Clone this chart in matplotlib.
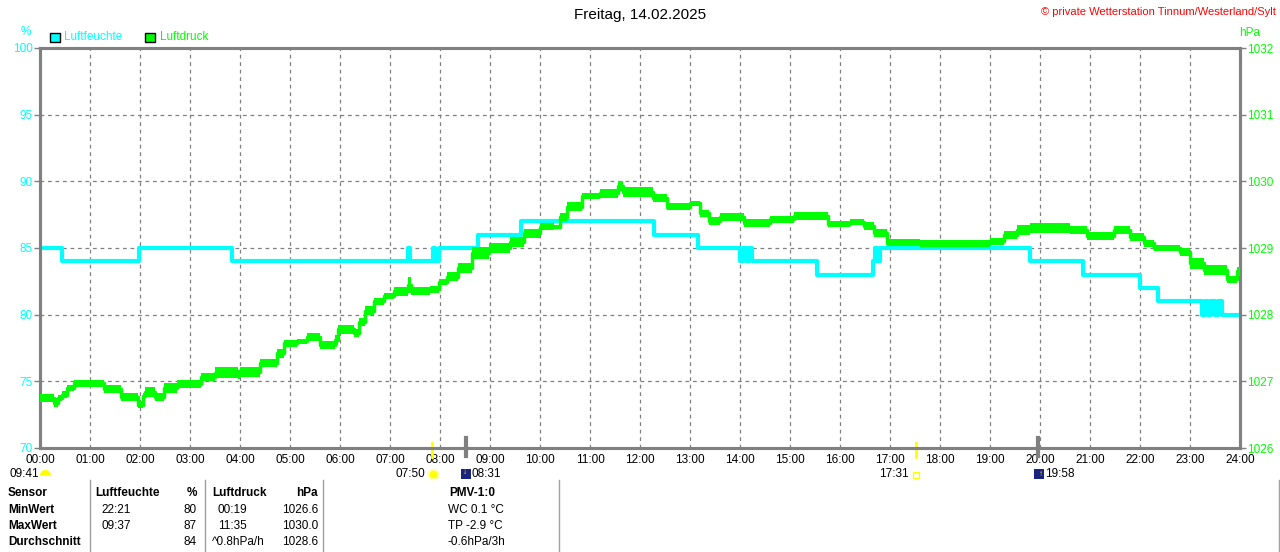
import matplotlib
matplotlib.use("Agg")
from matplotlib import pyplot as plt
from matplotlib.patches import Rectangle
import numpy as np

plt.rcParams["font.family"] = ["Liberation Sans", "DejaVu Sans"]

W, H = 1280, 552

# humidity (%) as steps: start hour of each level
hum_hours = [0.00, 0.44, 1.98, 3.84, 7.35, 7.39, 7.86, 7.90, 7.98, 8.76, 9.62,
             12.28, 13.16, 14.00, 14.05, 14.11, 14.17, 14.24, 14.32, 14.92, 15.54,
             16.66, 16.70, 16.74, 16.80, 19.16, 19.80, 20.86, 22.00, 22.36,
             23.24, 23.30, 23.36, 23.42, 23.50, 23.56, 23.64, 24.00]
hum_vals = [85, 84, 85, 84, 85, 84, 85, 84, 85, 86, 87,
            86, 85, 84, 85, 84, 85, 84, 84, 84, 83,
            84, 85, 84, 85, 85, 84, 83, 82, 81,
            80, 81, 80, 81, 80, 81, 80, 80]

# air pressure (hPa): start hour, level, scatter of the readings
p_hours = [0.00, 0.28, 0.36, 0.44, 0.53, 0.67, 1.27, 1.62, 1.95, 2.05, 2.10, 2.30,
           2.47, 2.73, 3.22, 3.50, 3.95, 4.00, 4.40, 4.73, 4.87, 5.13, 5.33, 5.60,
           5.90, 5.95, 6.27, 6.37, 6.50, 6.67, 6.87, 7.07, 7.36, 7.42, 7.80, 7.97,
           8.13, 8.37, 8.63, 8.97, 9.40, 9.67, 10.00, 10.27, 10.40, 10.53, 10.83,
           11.20, 11.55, 11.65, 12.25, 12.53, 13.00, 13.20, 13.37, 13.60, 14.07,
           14.60, 15.07, 15.75, 16.20, 16.47, 16.67, 16.93, 17.60, 19.00, 19.27,
           19.53, 19.80, 20.60, 20.93, 21.47, 21.80, 22.07, 22.27, 22.80, 23.00,
           23.27, 23.73, 23.93, 24.00]
p_vals = [1026.75, 1026.68, 1026.75, 1026.80, 1026.90, 1026.97, 1026.88, 1026.76,
          1026.65, 1026.78, 1026.84, 1026.77, 1026.90, 1026.96, 1027.06, 1027.13,
          1027.10, 1027.14, 1027.27, 1027.42, 1027.57, 1027.60, 1027.66, 1027.55,
          1027.62, 1027.78, 1027.72, 1027.89, 1028.06, 1028.20, 1028.28, 1028.35,
          1028.45, 1028.35, 1028.38, 1028.49, 1028.57, 1028.70, 1028.93, 1029.00,
          1029.09, 1029.22, 1029.32, 1029.32, 1029.47, 1029.62, 1029.78, 1029.82,
          1029.93, 1029.84, 1029.75, 1029.62, 1029.67, 1029.52, 1029.40, 1029.46,
          1029.37, 1029.43, 1029.48, 1029.36, 1029.39, 1029.33, 1029.22, 1029.08,
          1029.07, 1029.10, 1029.20, 1029.27, 1029.30, 1029.27, 1029.18, 1029.27,
          1029.17, 1029.07, 1029.00, 1028.94, 1028.77, 1028.67, 1028.53, 1028.65,
          1028.65]
p_noise = [0.06, 0.07, 0.05, 0.05, 0.04, 0.05, 0.06, 0.06, 0.05, 0.05, 0.07, 0.06,
           0.07, 0.06, 0.06, 0.08, 0.07, 0.07, 0.06, 0.07, 0.05, 0.04, 0.06, 0.06,
           0.07, 0.07, 0.06, 0.06, 0.07, 0.05, 0.04, 0.07, 0.12, 0.06, 0.05, 0.05,
           0.07, 0.07, 0.09, 0.07, 0.07, 0.07, 0.05, 0.03, 0.06, 0.07, 0.04, 0.07,
           0.08, 0.07, 0.06, 0.05, 0.04, 0.05, 0.06, 0.06, 0.06, 0.05, 0.06, 0.05,
           0.05, 0.06, 0.06, 0.05, 0.05, 0.05, 0.06, 0.07, 0.07, 0.06, 0.06, 0.06,
           0.06, 0.05, 0.04, 0.06, 0.08, 0.07, 0.05, 0.07, 0.07]

x_labels = ["%02d:00" % h for h in range(25)]

# sun / moon events
sun_events = [7.833, 17.517]     # 07:50, 17:31
moon_events = [8.517, 19.967]    # 08:31, 19:58

table_rows = ["Sensor", "MinWert", "MaxWert", "Durchschnitt"]
hum_times = ["", "22:21", "09:37", ""]
hum_stats = ["%", "80", "87", "84"]
p_times = ["", "00:19", "11:35", "^0.8hPa/h"]
p_stats = ["hPa", "1026.6", "1030.0", "1028.6"]
pmv = ["PMV-1:0", "WC 0.1 °C", "TP -2.9 °C", "-0.6hPa/3h"]

CYAN = "#00ffff"
GREEN = "#00ff00"
GRAY = "#808080"
FS = 8.5


def fx(px):
    return px / W


def fy(py):
    return 1 - py / H


def fig_marker(px, py, **kw):
    fig.add_artist(plt.Line2D([fx(px)], [fy(py)], transform=fig.transFigure,
                              linestyle="none", **kw))


fig = plt.figure(figsize=(12.8, 5.52), dpi=100)
ax = fig.add_axes([fx(40), fy(448), 1200 / W, 400 / H])
ax2 = ax.twinx()

ax.set_xlim(0, 24)
ax.set_ylim(70, 100)
ax2.set_ylim(1026, 1032)

ax.set_xticks(range(25))
ax.set_xticklabels(x_labels, fontsize=FS)
ax.set_yticks(range(70, 101, 5))
ax.set_yticklabels([str(v) for v in range(70, 101, 5)], fontsize=FS, color=CYAN)
ax2.set_yticks(range(1026, 1033))
ax2.set_yticklabels([str(v) for v in range(1026, 1033)], fontsize=FS, color=GREEN)
ax.tick_params(axis="y", length=4, width=1, color=GRAY, pad=1)
ax2.tick_params(axis="y", length=4, width=1, color=GRAY, pad=1)
ax.tick_params(axis="x", length=0, pad=4.5)

ax.grid(True, color=GRAY, linestyle=(0, (3, 3)), linewidth=0.9)
for a in (ax, ax2):
    for s in a.spines.values():
        s.set_color(GRAY)
        s.set_linewidth(2.2)

# humidity
ax.plot(hum_hours, hum_vals, drawstyle="steps-post", color=CYAN, linewidth=3, zorder=3)

# pressure
ax2.fill_between(p_hours, np.array(p_vals) - np.array(p_noise),
                 np.array(p_vals) + np.array(p_noise), step="post",
                 color=GREEN, linewidth=0, zorder=4)
ax2.plot(p_hours, p_vals, drawstyle="steps-post", color=GREEN, linewidth=2.5, zorder=4)

# sunrise/sunset and moon marks on the axis
for t in sun_events:
    ax.plot([t, t], [0.012, -0.022], color="#ffff00", linewidth=2,
            transform=ax.get_xaxis_transform(), clip_on=False, zorder=6)
for t in moon_events:
    ax.plot([t, t], [0.025, -0.02], color=GRAY, linewidth=3,
            transform=ax.get_xaxis_transform(), clip_on=False, zorder=6)

# header texts
fig.text(0.5, fy(15), "Freitag, 14.02.2025", ha="center", va="center", fontsize=11)
fig.text(fx(1276), fy(12), "© private Wetterstation Tinnum/Westerland/Sylt",
         ha="right", va="center", fontsize=8, color="red")
fig.text(fx(26), fy(32), "%", ha="center", va="center", fontsize=FS, color=CYAN)
fig.text(fx(1250), fy(33), "hPa", ha="center", va="center", fontsize=FS, color=GREEN)

fig.patches.append(Rectangle((fx(50), fy(42)), 10 / W, 9 / H, transform=fig.transFigure,
                             facecolor=CYAN, edgecolor="black", linewidth=1))
fig.text(fx(64), fy(37), "Luftfeuchte", ha="left", va="center", fontsize=FS, color=CYAN)
fig.patches.append(Rectangle((fx(145), fy(42)), 10 / W, 9 / H, transform=fig.transFigure,
                             facecolor=GREEN, edgecolor="black", linewidth=1))
fig.text(fx(160), fy(37), "Luftdruck", ha="left", va="center", fontsize=FS, color=GREEN)

# event labels under the axis
EY = 474
fig.text(fx(10), fy(EY), "09:41", ha="left", va="center", fontsize=FS)
fig_marker(45, EY + 1, marker="o", markersize=8, fillstyle="top", color="#ffff00",
           markerfacecoloralt="none", markeredgewidth=0)
fig.text(fx(425), fy(EY), "07:50", ha="right", va="center", fontsize=FS)
fig_marker(433, EY, marker="o", markersize=7, color="#ffff00",
           markeredgecolor="#ffffaa", markeredgewidth=1.5)
fig.patches.append(Rectangle((fx(461), fy(EY + 5)), 10 / W, 10 / H,
                             transform=fig.transFigure, facecolor="#1a237e",
                             edgecolor="none"))
fig.text(fx(465), fy(EY - 1), "↓", ha="center", va="center", fontsize=6,
         color="#ffff00", weight="bold")
fig.text(fx(472), fy(EY), "08:31", ha="left", va="center", fontsize=FS)
fig.text(fx(909), fy(EY), "17:31", ha="right", va="center", fontsize=FS)
fig.patches.append(Rectangle((fx(913), fy(EY + 4)), 6 / W, 6 / H,
                             transform=fig.transFigure, facecolor="white",
                             edgecolor="#ffff00", linewidth=1))
fig.patches.append(Rectangle((fx(1034), fy(EY + 5)), 10 / W, 10 / H,
                             transform=fig.transFigure, facecolor="#1a237e",
                             edgecolor="none"))
fig.text(fx(1041), fy(EY + 1), "↑", ha="center", va="center", fontsize=6,
         color="#ffff00", weight="bold")
fig.text(fx(1045), fy(EY), "19:58", ha="left", va="center", fontsize=FS)

# table
for sx in (90, 205, 323, 559, 1279):
    fig.lines.append(plt.Line2D([fx(sx), fx(sx)], [fy(480), fy(552)],
                                transform=fig.transFigure, color="#a0a0a0", linewidth=1))
row_y = [493, 510, 526, 542]
for i, ry in enumerate(row_y):
    head = i == 0
    fig.text(fx(8), fy(ry), table_rows[i], ha="left", va="center", fontsize=FS,
             weight="bold")
    if head:
        fig.text(fx(95), fy(ry), "Luftfeuchte", ha="left", va="center", fontsize=FS,
                 weight="bold")
        fig.text(fx(212), fy(ry), "Luftdruck", ha="left", va="center", fontsize=FS,
                 weight="bold")
    else:
        fig.text(fx(101), fy(ry), hum_times[i], ha="left", va="center", fontsize=FS)
        fig.text(fx(212) if i == 3 else fx(218), fy(ry), p_times[i], ha="left",
                 va="center", fontsize=FS)
    fig.text(fx(197), fy(ry), hum_stats[i], ha="right", va="center", fontsize=FS,
             weight="bold" if head else "normal")
    fig.text(fx(318), fy(ry), p_stats[i], ha="right", va="center", fontsize=FS,
             weight="bold" if head else "normal")
    fig.text(fx(448) if not head else fx(472), fy(ry), pmv[i],
             ha="left" if not head else "center", va="center", fontsize=FS,
             weight="bold" if head else "normal")

fig.savefig("out.png", dpi=100)
